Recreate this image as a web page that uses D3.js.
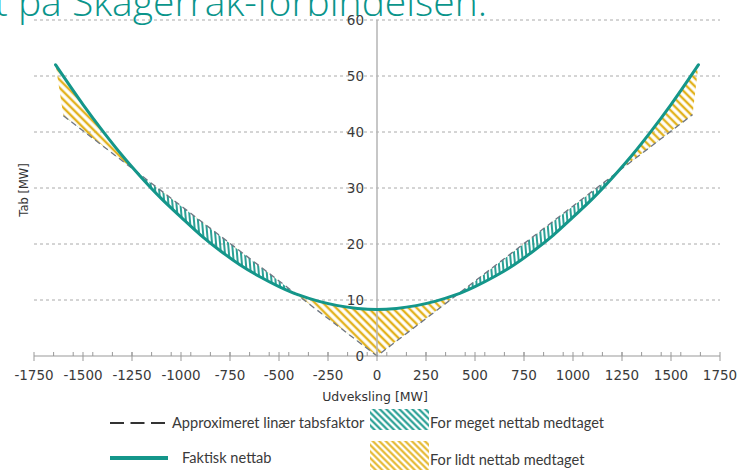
<!DOCTYPE html>
<html>
<head>
<meta charset="utf-8">
<script src="https://cdn.jsdelivr.net/npm/d3@7"></script>
<style>
  body { margin: 0; background: #fff; }
  svg { display: block; }
  .tick-label { font-family: 'DejaVu Sans', sans-serif; font-size: 13.5px; fill: #3a3a3a; }
  .axis-title { font-family: 'DejaVu Sans', sans-serif; fill: #333; }
  .legend text { font-family: Lato, 'Open Sans', sans-serif; font-size: 14.6px; fill: #3a3a3a; }
</style>
</head>
<body>
<svg id="chart"></svg>
<script>
const W = 740, H = 470

// x tick labels and y tick labels
const xTicks = [-1750, -1500, -1250, -1000, -750, -500, -250, 0, 250, 500, 750, 1000, 1250, 1500, 1750]
const yTicks = [0, 10, 20, 30, 40, 50, 60]

// Faktisk nettab (MW exchanged vs MW lost)
const exchange = [-1640, -1500, -1400, -1300, -1200, -1100, -1000, -900, -800, -700, -600, -500, -400, -300, -200, -100, 0,
    100, 200, 300, 400, 500, 600, 700, 800, 900, 1000, 1100, 1200, 1300, 1400, 1500, 1640]
const actualLoss = [52.0, 44.9, 40.2, 35.8, 31.8, 28.1, 24.8, 21.6, 18.8, 16.3, 14.2, 12.4, 10.9, 9.8, 9.0, 8.5, 8.3,
    8.5, 9.0, 9.8, 10.9, 12.4, 14.2, 16.3, 18.8, 21.6, 24.8, 28.1, 31.8, 35.8, 40.2, 44.9, 52.0]

// Approximeret linær tabsfaktor
const approxExchange = [-1600, 0, 1610]
const approxLoss = [42.9, 0, 43.1]

const teal = '#14968a', yellow = '#e2b21e'

const x = d3.scaleLinear().domain([-1750, 1750]).range([34, 720])
const y = d3.scaleLinear().domain([0, 60]).range([356, 20])

const svg = d3.select('#chart').attr('width', W).attr('height', H)
const defs = svg.append('defs')

// hatch patterns
function hatch(id, color, size, width, angle) {
    defs.append('pattern')
        .attr('id', id)
        .attr('patternUnits', 'userSpaceOnUse')
        .attr('width', size).attr('height', size)
        .attr('patternTransform', `rotate(${angle})`)
      .append('line')
        .attr('x1', size / 2).attr('x2', size / 2)
        .attr('y1', -1).attr('y2', size + 1)
        .attr('stroke', color)
        .attr('stroke-width', width)
}
hatch('hatchYellow', yellow, 5.7, 2.4, -45)
hatch('hatchTeal', teal, 4, 1.8, -5)
hatch('legTeal', teal, 4.6, 2, -45)
hatch('legYellow', yellow, 4.6, 2, -45)

// Title (cut at top of the slide)
svg.append('text')
    .attr('x', 487).attr('y', 16)
    .attr('text-anchor', 'end')
    .style('font-family', "'Open Sans', sans-serif")
    .style('font-weight', 300)
    .style('font-size', '39px')
    .style('fill', '#0a958b')
    .text('Linær tabsfaktor sat på Skagerrak-forbindelsen.')

// Gridlines
svg.append('g').selectAll('line')
    .data(yTicks.filter(d => d > 0))
    .join('line')
    .attr('x1', x(-1750)).attr('x2', x(1750))
    .attr('y1', d => y(d)).attr('y2', d => y(d))
    .attr('stroke', '#aaa')
    .attr('stroke-width', 1)
    .attr('stroke-dasharray', '3,3')

// Hatched regions between the two lines
const curvePts = exchange.map((d, i) => [x(d), y(actualLoss[i])])
const approxPts = approxExchange.map((d, i) => [x(d), y(approxLoss[i])])
const band = 'M' + curvePts.concat(approxPts.slice().reverse()).join('L') + 'Z'

const above = [[x(-1750), y(60)], [x(-1750), approxPts[0][1]]].concat(approxPts)
    .concat([[x(1750), approxPts[2][1]], [x(1750), y(60)]])
const below = [[x(-1750), y(0)], [x(-1750), approxPts[0][1]]].concat(approxPts)
    .concat([[x(1750), approxPts[2][1]], [x(1750), y(0)]])

defs.append('clipPath').attr('id', 'clipAbove')
    .append('path').attr('d', 'M' + above.join('L') + 'Z')
defs.append('clipPath').attr('id', 'clipBelow')
    .append('path').attr('d', 'M' + below.join('L') + 'Z')

svg.append('path').attr('d', band)
    .attr('fill', 'url(#hatchYellow)')
    .attr('clip-path', 'url(#clipAbove)')
svg.append('path').attr('d', band)
    .attr('fill', 'url(#hatchTeal)')
    .attr('clip-path', 'url(#clipBelow)')

// y axis line (at 0 MW)
svg.append('line')
    .attr('x1', x(0)).attr('x2', x(0))
    .attr('y1', y(0)).attr('y2', y(60))
    .attr('stroke', '#b5b5b5').attr('stroke-width', 1.5)

// Approximated linear loss
const line = d3.line().x(d => d[0]).y(d => d[1])
svg.append('path')
    .attr('d', line(approxPts))
    .attr('fill', 'none')
    .attr('stroke', '#6f7683')
    .attr('stroke-width', 1.3)
    .attr('stroke-dasharray', '6,4')

// Actual loss
svg.append('path')
    .attr('d', d3.line().curve(d3.curveMonotoneX)(curvePts))
    .attr('fill', 'none')
    .attr('stroke', teal)
    .attr('stroke-width', 3)
    .attr('stroke-linecap', 'round')

// x axis
const gx = svg.append('g').attr('transform', `translate(0,${y(0)})`)
gx.append('line').attr('x1', x(-1750)).attr('x2', x(1750)).attr('stroke', '#999')
gx.selectAll('.minor')
    .data(d3.range(-1650, 1700, 100))
    .join('line').attr('class', 'minor')
    .attr('x1', d => x(d)).attr('x2', d => x(d))
    .attr('y1', -4).attr('y2', 0)
    .attr('stroke', '#999')
gx.selectAll('.major')
    .data(xTicks)
    .join('line').attr('class', 'major')
    .attr('x1', d => x(d)).attr('x2', d => x(d))
    .attr('y1', -4).attr('y2', 5)
    .attr('stroke', '#999')
gx.selectAll('text')
    .data(xTicks)
    .join('text').attr('class', 'tick-label')
    .attr('x', d => x(d)).attr('y', 24)
    .attr('text-anchor', 'middle')
    .text(d => d)

// y labels
svg.append('g').selectAll('text')
    .data(yTicks)
    .join('text').attr('class', 'tick-label')
    .attr('x', x(0) - 13).attr('y', d => y(d) + 5)
    .attr('text-anchor', 'end')
    .text(d => d)

// axis titles
svg.append('text').attr('class', 'axis-title')
    .attr('x', 375).attr('y', 401)
    .attr('text-anchor', 'middle')
    .style('font-size', '12.5px')
    .text('Udveksling [MW]')
svg.append('text').attr('class', 'axis-title')
    .attr('transform', 'translate(28,190) rotate(-90)')
    .attr('text-anchor', 'middle')
    .style('font-size', '11.5px')
    .text('Tab [MW]')

// Legend
const leg = svg.append('g').attr('class', 'legend')
leg.append('line')
    .attr('x1', 110).attr('x2', 165).attr('y1', 423).attr('y2', 423)
    .attr('stroke', '#333').attr('stroke-width', 2).attr('stroke-dasharray', '14,6.5')
leg.append('text').attr('x', 172).attr('y', 428).text('Approximeret linær tabsfaktor')
leg.append('line')
    .attr('x1', 110).attr('x2', 168).attr('y1', 458).attr('y2', 458)
    .attr('stroke', teal).attr('stroke-width', 4)
leg.append('text').attr('x', 182).attr('y', 463).text('Faktisk nettab')
leg.append('rect')
    .attr('x', 370).attr('y', 409).attr('width', 59).attr('height', 21)
    .attr('fill', 'url(#legTeal)')
leg.append('text').attr('x', 430).attr('y', 428).text('For meget nettab medtaget')
leg.append('rect')
    .attr('x', 370).attr('y', 441).attr('width', 59).attr('height', 29)
    .attr('fill', 'url(#legYellow)')
leg.append('text').attr('x', 430).attr('y', 465).text('For lidt nettab medtaget')
</script>
</body>
</html>
